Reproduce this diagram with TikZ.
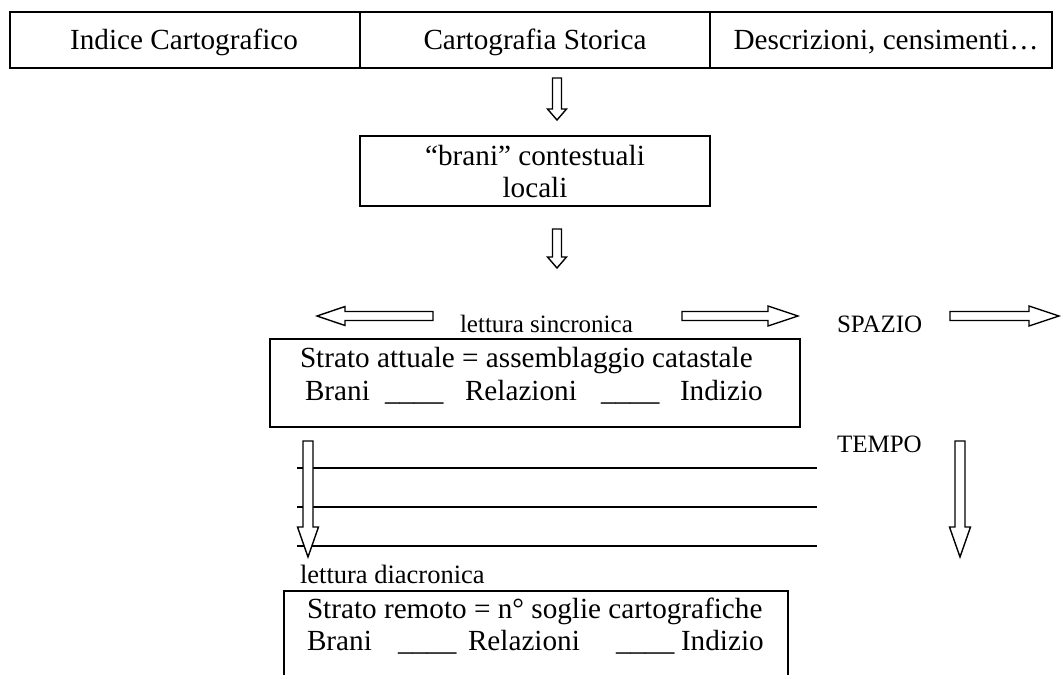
\documentclass[tikz,border=0pt]{standalone}
\usepackage{fontspec}
\setmainfont{Liberation Serif}
\newcommand\fmain{\fontsize{29.2}{33}\selectfont}
\newcommand\fsmall{\fontsize{25}{28}\selectfont}
\newcommand\fdia{\fontsize{26.5}{30}\selectfont}
\newcommand\usc{\textunderscore\textunderscore\textunderscore\textunderscore}
% block arrows: down (x, ytop, ytip, headlen, shafthalf, headhalf)
\newcommand\dnblk[6]{\draw[blk] (#1-#5,#2) -- (#1+#5,#2) -- (#1+#5,#3-#4) -- (#1+#6,#3-#4) -- (#1,#3) -- (#1-#6,#3-#4) -- (#1-#5,#3-#4) -- cycle;}
% right (xstart, xtip, y, headlen, shafthalf, headhalf)
\newcommand\rtblk[6]{\draw[blk] (#1,#3-#5) -- (#2-#4,#3-#5) -- (#2-#4,#3-#6) -- (#2,#3) -- (#2-#4,#3+#6) -- (#2-#4,#3+#5) -- (#1,#3+#5) -- cycle;}
% left (xtip, xend, y, headlen, shafthalf, headhalf)
\newcommand\lfblk[6]{\draw[blk] (#2,#3-#5) -- (#1+#4,#3-#5) -- (#1+#4,#3-#6) -- (#1,#3) -- (#1+#4,#3+#6) -- (#1+#4,#3+#5) -- (#2,#3+#5) -- cycle;}
\begin{document}
\begin{tikzpicture}[x=1pt,y=-1pt,
  bx/.style={draw=black, line width=2pt, inner sep=0pt},
  blk/.style={draw=black, fill=white, line width=1.4pt, line join=miter},
  txt/.style={inner sep=0pt, outer sep=0pt},
  rule/.style={draw=black, line width=1.8pt}]
\useasboundingbox (0,0) rectangle (1061,675);
\clip (0,0) rectangle (1061,675);
% top row
\node[bx, minimum width=350pt, minimum height=56pt] (c1) at (185,40) {};
\node[bx, minimum width=350pt, minimum height=56pt] (c2) at (535,40) {};
\node[bx, minimum width=342pt, minimum height=56pt] (c3) at (881,40) {};
\node[txt, anchor=base] (t1) at (184,49) {\fmain Indice Cartografico};
\node[txt, anchor=base] (t2) at (535,49) {\fmain Cartografia Storica};
\node[txt, anchor=base] (t3) at (886,49) {\fmain Descrizioni, censimenti…};
% arrow 1
\coordinate (a1s) at (557,78); \coordinate (a1e) at (557,120);
\dnblk{557}{78}{120}{11}{4.5}{9.5}
% brani box
\node[bx, minimum width=350pt, minimum height=70pt] (brani) at (535,171) {};
\node[txt, anchor=base] (br1) at (535,165) {\fmain “brani” contestuali};
\node[txt, anchor=base] (br2) at (535,197) {\fmain locali};
% arrow 2
\coordinate (a2s) at (557,229); \coordinate (a2e) at (557,268);
\dnblk{557}{229}{268}{11}{4.5}{9.5}
% lettura sincronica row
\lfblk{317}{433}{316}{28}{4.5}{9.5}
\node[txt, anchor=base west] (sinc) at (460,332) {\fsmall lettura sincronica};
\rtblk{682}{798}{316}{30}{4.5}{10}
\node[txt, anchor=base west] (spazio) at (837,332) {\fsmall SPAZIO};
\rtblk{950}{1059}{316}{30}{4.5}{10}
% strato attuale
\node[bx, minimum width=530pt, minimum height=88pt] (attuale) at (535,383) {};
\node[txt, anchor=base west] (at1) at (300,367) {\fmain Strato attuale = assemblaggio catastale};
\node[txt, anchor=base west] (at2) at (305,400) {\fmain Brani};
\node[txt, anchor=base west] (at3) at (385,400) {\fmain\usc};
\node[txt, anchor=base west] (at4) at (465,400) {\fmain Relazioni};
\node[txt, anchor=base west] (at5) at (601,400) {\fmain\usc};
\node[txt, anchor=base west] (at6) at (680,400) {\fmain Indizio};
% horizontal strata lines
\coordinate (l1a) at (297,468); \coordinate (l1b) at (817,468);
\coordinate (l2a) at (297,507); \coordinate (l2b) at (817,507);
\coordinate (l3a) at (297,546); \coordinate (l3b) at (817,546);
\draw[rule] (l1a) -- (l1b);
\draw[rule] (l2a) -- (l2b);
\draw[rule] (l3a) -- (l3b);
% down arrows
\dnblk{308}{441}{557}{30}{5}{10.5}
\node[txt, anchor=base west] (tempo) at (837,452) {\fsmall TEMPO};
\dnblk{960}{441}{557}{30}{5}{10.5}
% lettura diacronica
\node[txt, anchor=base west] (diac) at (300,583) {\fdia lettura diacronica};
% strato remoto
\node[bx, minimum width=504pt, minimum height=110pt] (remoto) at (536,646) {};
\node[txt, anchor=base west] (re1) at (307,618) {\fmain Strato remoto = n° soglie cartografiche};
\node[txt, anchor=base west] (re2) at (307,650) {\fmain Brani};
\node[txt, anchor=base west] (re3) at (398,650) {\fmain\usc};
\node[txt, anchor=base west] (re4) at (468,650) {\fmain Relazioni};
\node[txt, anchor=base west] (re5) at (616,650) {\fmain\usc};
\node[txt, anchor=base west] (re6) at (681,650) {\fmain Indizio};
\end{tikzpicture}
\end{document}
